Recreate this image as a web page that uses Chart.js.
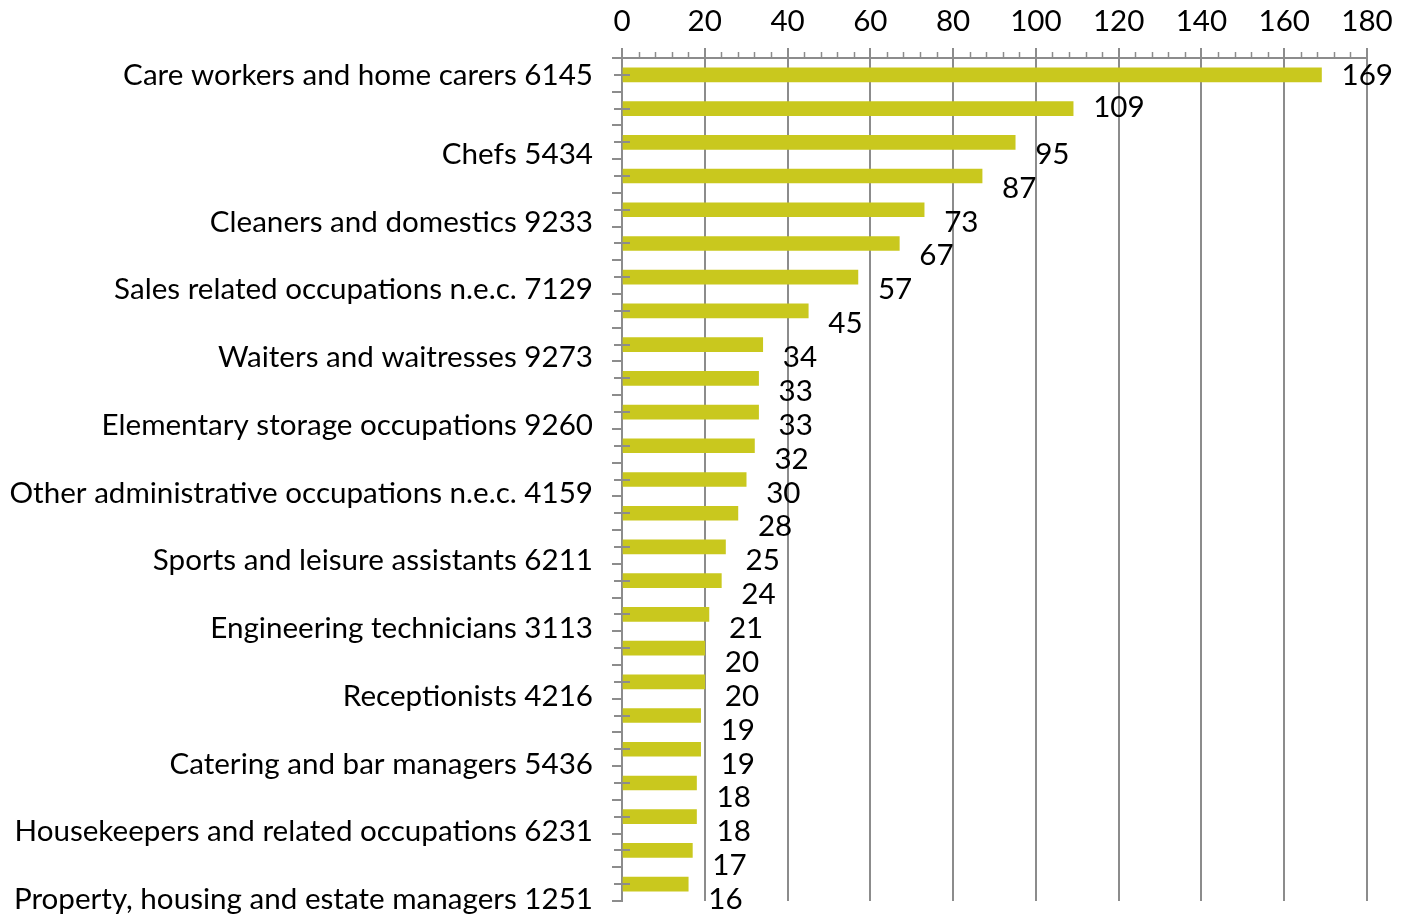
<!DOCTYPE html>
<html>
<head>
<meta charset="utf-8">
<script src="https://cdn.jsdelivr.net/npm/chart.js@4.4.1/dist/chart.umd.min.js"></script>
<style>
  html, body { margin: 0; padding: 0; background: #fff; }
  #wrap { width: 1402px; height: 922px; }
</style>
</head>
<body>
<div id="wrap"><canvas id="occupations" width="1402" height="922"></canvas></div>
<script>
// Occupation labels (only every other one is printed on the axis)
const categories = [
    'Care workers and home carers 6145', '',
    'Chefs 5434', '',
    'Cleaners and domestics 9233', '',
    'Sales related occupations n.e.c. 7129', '',
    'Waiters and waitresses 9273', '',
    'Elementary storage occupations 9260', '',
    'Other administrative occupations n.e.c. 4159', '',
    'Sports and leisure assistants 6211', '',
    'Engineering technicians 3113', '',
    'Receptionists 4216', '',
    'Catering and bar managers 5436', '',
    'Housekeepers and related occupations 6231', '',
    'Property, housing and estate managers 1251'
];
const counts = [169, 109, 95, 87, 73, 67, 57, 45, 34, 33, 33, 32, 30, 28, 25, 24, 21, 20, 20, 19, 19, 18, 18, 17, 16];
const xMin = 0;
const xMax = 180;
const xStep = 20;
const xMinorStep = 4;

const FONT = 'Lato, "Open Sans", sans-serif';
const FONT_SIZE = 29.6;
const GRID = '#8c8c8c';
const BAR = '#c9c81e';

// text sits a little below the bar from the third row on
function rowShift(i) {
    if (i === 0) return 1;
    if (i === 1) return -1;
    return 12 + (i - 2) * 0.15;
}

const extrasPlugin = {
    id: 'extras',
    afterDraw(chart) {
        const ctx = chart.ctx;
        const x = chart.scales.x;
        const y = chart.scales.y;
        const area = chart.chartArea;
        ctx.save();

        // minor ticks along the top axis
        ctx.strokeStyle = GRID;
        ctx.lineWidth = 1.5;
        for (let v = xMin; v <= xMax; v += xMinorStep) {
            if (v % xStep === 0) continue;
            const px = Math.round(x.getPixelForValue(v)) + 0.5;
            ctx.beginPath();
            ctx.moveTo(px, area.top - 6);
            ctx.lineTo(px, area.top);
            ctx.stroke();
        }

        // cross ticks on the category axis at each bar
        ctx.lineWidth = 2;
        categories.forEach((c, i) => {
            const py = Math.round(y.getPixelForValue(i));
            ctx.beginPath();
            ctx.moveTo(area.left - 8, py);
            ctx.lineTo(area.left + 8, py);
            ctx.stroke();
        });

        ctx.font = FONT_SIZE + 'px ' + FONT;
        ctx.fillStyle = '#000';
        ctx.textBaseline = 'middle';

        // category names
        ctx.textAlign = 'right';
        categories.forEach((c, i) => {
            if (!c) return;
            ctx.fillText(c, area.left - 29, y.getPixelForValue(i) + rowShift(i));
        });

        // value labels
        ctx.textAlign = 'left';
        const meta = chart.getDatasetMeta(0);
        meta.data.forEach((bar, i) => {
            ctx.fillText(String(counts[i]), bar.x + 20, bar.y + rowShift(i));
        });

        ctx.restore();
    }
};

new Chart(document.getElementById('occupations'), {
    type: 'bar',
    data: {
        labels: categories,
        datasets: [{
            data: counts,
            backgroundColor: BAR,
            borderWidth: 0,
            barThickness: 14
        }]
    },
    options: {
        indexAxis: 'y',
        responsive: false,
        animation: false,
        layout: { padding: { top: 0, left: 0, right: 35, bottom: 21 } },
        plugins: {
            legend: { display: false },
            tooltip: { enabled: false }
        },
        scales: {
            x: {
                position: 'top',
                min: xMin,
                max: xMax,
                ticks: {
                    stepSize: xStep,
                    color: '#000',
                    font: { family: FONT, size: FONT_SIZE },
                    padding: 9,
                    maxRotation: 0
                },
                grid: { color: GRID, lineWidth: 2, tickLength: 10 },
                border: { color: GRID, width: 2 },
                afterFit(scale) { scale.height = 58; }
            },
            y: {
                ticks: { display: false },
                grid: { drawOnChartArea: false, color: GRID, lineWidth: 2, tickLength: 10, offset: true },
                border: { color: GRID, width: 2 },
                afterFit(scale) { scale.width = 622; }
            }
        }
    },
    plugins: [extrasPlugin]
});
</script>
</body>
</html>
